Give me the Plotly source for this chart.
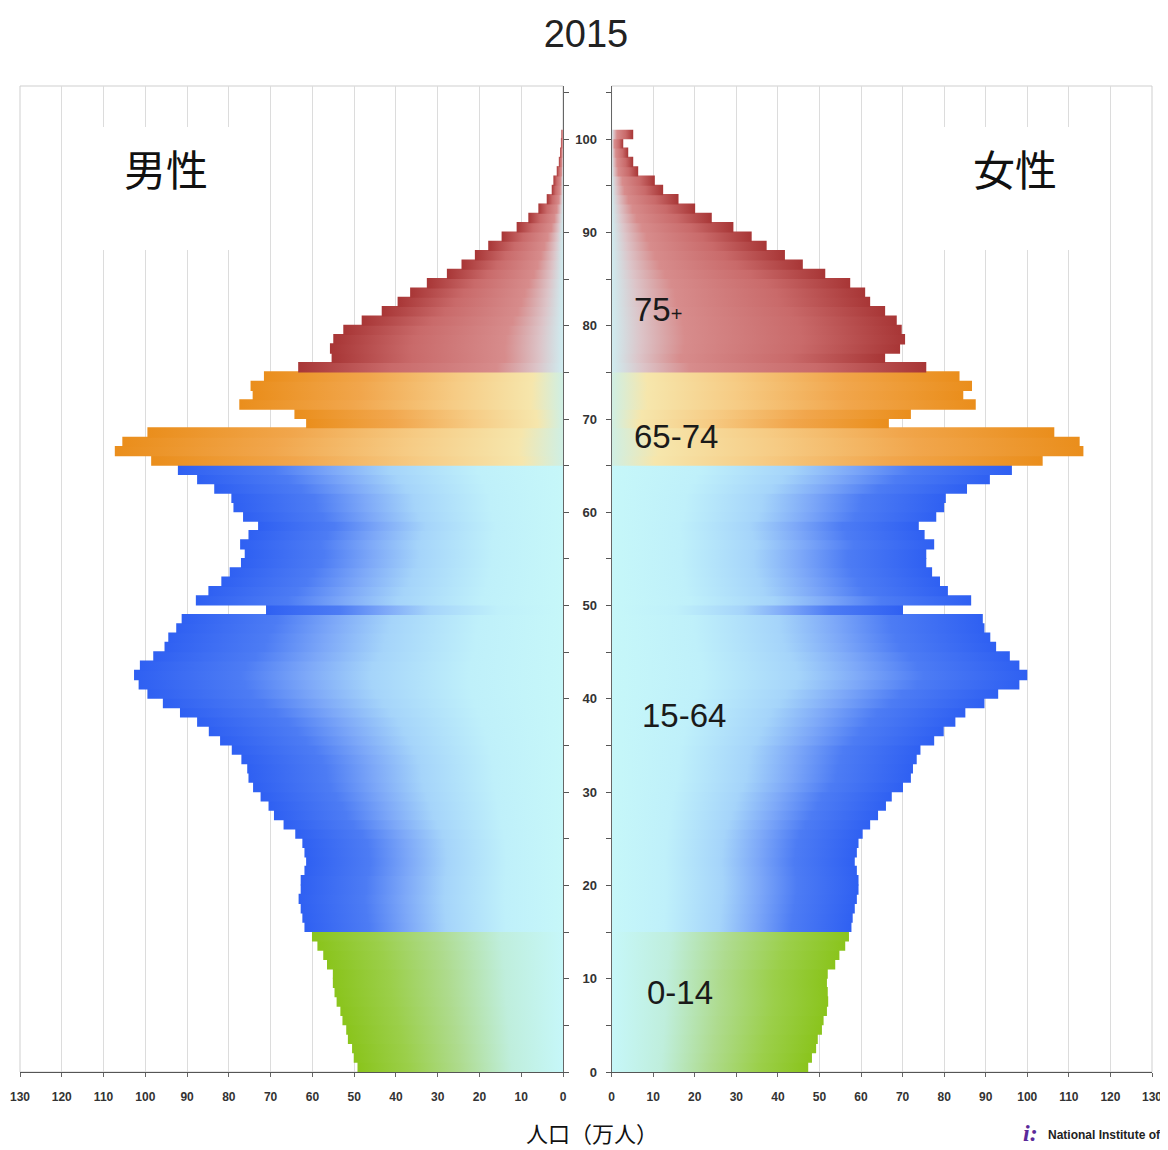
import plotly.graph_objects as go

# ---------------- data (population, 10k persons) ----------------
ages = list(range(0, 101))  # 100 = 100+

male = [49.2, 50.1, 50.5, 51.5, 51.9, 52.8, 53.3, 54.2, 54.7, 55.1,
        55.1, 56.5, 57.4, 58.8, 60.1, 61.9, 62.4, 62.8, 63.3, 62.8,
        62.8, 61.9, 61.5, 61.9, 62.4, 64.1, 66.9, 69.2, 70.5, 72.4,
        74.2, 75.3, 75.6, 77.0, 79.3, 82.1, 84.8, 87.6, 91.7, 95.8,
        99.5, 101.6, 102.7, 101.3, 98.1, 95.4, 94.5, 92.6, 91.3, 71.1,
        87.9, 84.9, 81.8, 79.8, 77.1, 76.2, 77.3, 75.3, 73.0, 76.6,
        78.9, 79.4, 83.5, 87.6, 92.2, 98.6, 107.3, 105.5, 99.5, 61.5,
        64.3, 77.5, 74.3, 74.8, 71.6, 63.4, 55.4, 55.8, 55.0, 52.6,
        48.2, 43.4, 39.6, 36.6, 32.6, 27.8, 24.3, 21.1, 17.9, 14.7,
        11.1, 8.3, 5.9, 3.9, 2.7, 2.3, 1.5, 1.0, 0.7, 0.5,
        0.4]

female = [47.3, 48.2, 49.2, 49.6, 50.6, 51.0, 51.8, 52.1, 52.0, 51.8,
          52.0, 53.8, 54.8, 56.2, 57.1, 57.7, 58.0, 58.5, 59.0, 59.4,
          59.4, 59.0, 58.5, 59.0, 59.4, 60.4, 62.2, 64.1, 66.0, 67.4,
          70.1, 72.0, 72.5, 73.4, 74.3, 77.6, 79.9, 82.7, 85.1, 89.7,
          93.0, 98.1, 100.0, 98.1, 95.8, 92.5, 91.1, 89.7, 89.3, 70.1,
          86.5, 80.9, 79.0, 77.1, 75.7, 75.7, 77.6, 75.3, 73.9, 78.1,
          80.0, 80.4, 85.5, 91.0, 96.3, 103.7, 113.5, 112.6, 106.5, 66.7,
          72.0, 87.6, 84.6, 86.7, 83.7, 75.7, 65.8, 69.4, 70.6, 69.8,
          68.6, 65.8, 62.2, 61.0, 57.4, 51.4, 46.0, 41.7, 37.3, 33.7,
          29.3, 24.1, 20.1, 16.1, 12.4, 10.4, 6.4, 5.2, 4.0, 2.8,
          5.2]

group_labels = ["0-14", "15-64", "65-74", "75+"]
group_start = [0, 15, 65, 75]
x_ticks = list(range(0, 131, 10))
age_ticks = list(range(0, 101, 10))

# ---------------- styles ----------------
SCALES = [
    [[0, "#C6F7F9"], [0.25, "#BFEEDC"], [0.5, "#AEDB8E"], [0.75, "#9BCF4A"], [1, "#8AC41C"]],
    [[0, "#C6F7F9"], [0.22, "#BFF0FA"], [0.45, "#A5D4FA"], [0.6, "#7DA8F8"], [0.75, "#4D7CF4"], [1, "#2F60F2"]],
    [[0, "#CFEFE4"], [0.1, "#F6E6AC"], [0.35, "#F6CB84"], [0.65, "#F1A64C"], [1, "#EA8E1C"]],
    [[0, "#CFECF0"], [0.1, "#DCC4C8"], [0.25, "#D78C8C"], [0.65, "#C96A6A"], [1, "#A83636"]],
]
SANS = "Liberation Sans Narrow, Arial Narrow, Liberation Sans, Arial, sans-serif"
CJK = "Noto Sans CJK JP, Noto Sans CJK SC, sans-serif"
OVL = 0.11  # tiny overlap so stacked bars show no seams

OFF = 8  # page body margin
W, H = 1168 - OFF, 1150 - OFF
L, T = 20 - OFF, 86 - OFF
R = W - (1152 - OFF)
B = H - (1072 - OFF)
PW, PH = W - L - R, H - T - B
YMAX = 105.7


def px(sx):
    """screen x (reference pixels) -> paper fraction"""
    return (sx - OFF - L) / PW


def py(sy):
    """screen y (reference pixels) -> paper fraction"""
    return (H - B - (sy - OFF)) / PH


def group_of(a):
    g = 0
    for i, s in enumerate(group_start):
        if a >= s:
            g = i
    return g


fig = go.Figure()
for vals, xa, ya in ((male, "x", "y"), (female, "x2", "y2")):
    for a, v in zip(ages, vals):
        g = group_of(a)
        top = a + 1 + (OVL if a < ages[-1] else 0)
        fig.add_trace(go.Scatter(
            x=[0, v, v, 0, 0], y=[a, a, top, top, a],
            xaxis=xa, yaxis=ya, mode="lines", fill="toself",
            line=dict(width=0, color="rgba(0,0,0,0)"),
            fillgradient=dict(type="horizontal", start=0, stop=v,
                              colorscale=SCALES[g]),
            hoverinfo="skip", showlegend=False))

xcommon = dict(tickvals=x_ticks, ticks="outside", ticklen=4, automargin=False,
               tickcolor="#666", showline=True, linecolor="#555", linewidth=1,
               showgrid=True, gridcolor="#DCDCDC", gridwidth=1, zeroline=False,
               tickfont=dict(family=SANS, size=12, color="#333", weight="bold"),
               ticklabelstandoff=10, fixedrange=True)
ycommon = dict(range=[0, YMAX], tickvals=age_ticks, ticks="outside", ticklen=5,
               automargin=False,
               tickcolor="#555", showline=True, linecolor="#666", linewidth=1,
               showgrid=False, zeroline=False,
               minor=dict(dtick=5, tick0=0, ticks="outside", ticklen=5, tickcolor="#555"),
               tickfont=dict(family=SANS, size=13, color="#333", weight="bold"))

fig.update_layout(
    width=W, height=H, margin=dict(l=L, r=R, t=T, b=B, autoexpand=False),
    plot_bgcolor="white", paper_bgcolor="white",
    font=dict(family=SANS, color="#222"),
    xaxis=dict(xcommon, domain=[0, px(563)], range=[130, 0], anchor="y"),
    xaxis2=dict(xcommon, domain=[px(611.6), 1], range=[0, 130], anchor="y2"),
    yaxis=dict(ycommon, anchor="x", side="right", showticklabels=False),
    yaxis2=dict(ycommon, anchor="x2", side="left", showticklabels=True,
                ticklabelstandoff=6),
    title=dict(text="2015", x=(586 - OFF) / W, y=1 - (34 - OFF) / H,
               xanchor="center", yanchor="middle",
               font=dict(family=SANS, size=38, color="#222")),
)

# panel frames
for xr, yr in (("x domain", "y domain"), ("x2 domain", "y2 domain")):
    fig.add_shape(type="rect", xref=xr, yref=yr, x0=0, x1=1, y0=0, y1=1,
                  line=dict(color="#CFCFCF", width=1), layer="below")

# white label boxes
for x0, x1 in ((70, 260), (920, 1110)):
    fig.add_shape(type="rect", xref="paper", yref="paper",
                  x0=px(x0), x1=px(x1), y0=py(250), y1=py(127),
                  fillcolor="white", line=dict(width=0), layer="above")

fig.add_annotation(text="男性", xref="paper", yref="paper", x=px(166), y=py(167),
                   showarrow=False, xanchor="center", yanchor="middle",
                   font=dict(family=CJK, size=42, color="#111"))
fig.add_annotation(text="女性", xref="paper", yref="paper", x=px(1015), y=py(167),
                   showarrow=False, xanchor="center", yanchor="middle",
                   font=dict(family=CJK, size=42, color="#111"))

# age-group labels
label_pos = [(8.0, 8.5), (6.9, 38.2), (5.0, 68.1), (5.0, 81.7)]
for name, (lx, ly) in zip(group_labels, label_pos):
    txt = name if name != "75+" else "75<span style='font-size:20px'>+</span>"
    fig.add_annotation(text=txt, xref="x2", yref="y2", x=lx, y=ly,
                       showarrow=False, xanchor="left", yanchor="middle",
                       font=dict(family=SANS, size=33, color="#1a1a1a"))

# axis title
fig.add_annotation(text="人口（万人）", xref="paper", yref="paper", x=px(592), y=py(1132),
                   showarrow=False, xanchor="center", yanchor="middle",
                   font=dict(family=CJK, size=22, color="#111"))

# source logo
fig.add_annotation(text="<b><i>i:</i></b>", xref="paper", yref="paper", x=px(1030), y=py(1133),
                   showarrow=False, xanchor="center", yanchor="middle",
                   font=dict(family="Liberation Serif, serif", size=24, color="#5B2A9A"))
fig.add_annotation(text="<b>National Institute of</b>",
                   xref="paper", yref="paper", x=px(1046), y=py(1135),
                   showarrow=False, xanchor="left", yanchor="middle",
                   font=dict(family=SANS, size=12, color="#222"))

fig.write_html("out.html")
